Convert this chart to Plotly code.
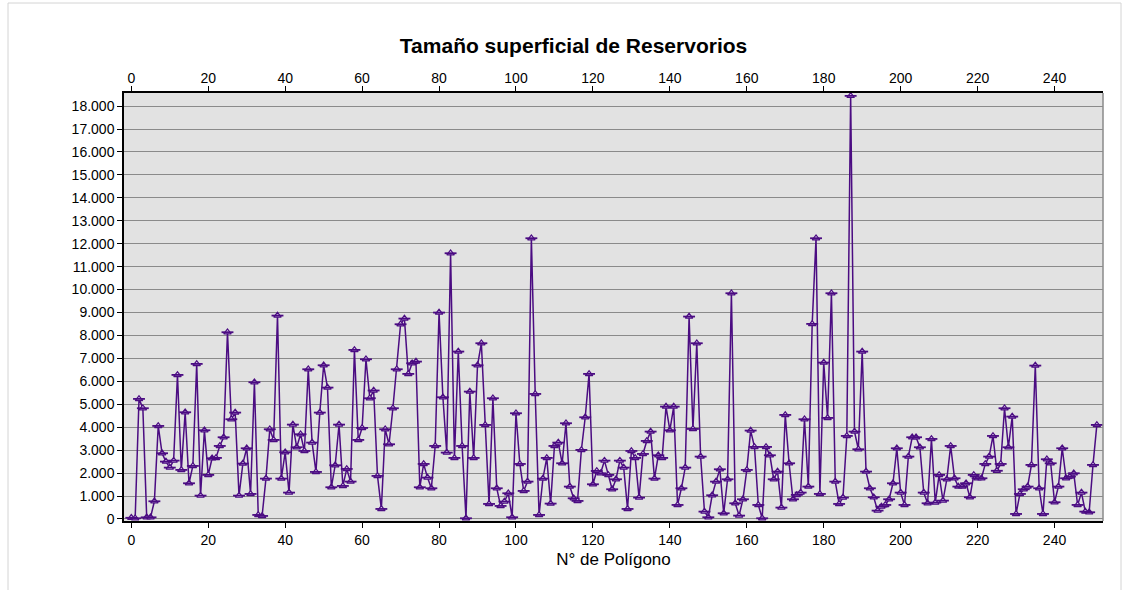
import plotly.graph_objects as go

# Surface area per polygon (m²)
poligono = list(range(252))
superficie = [
    50, 30, 5233, 4826, 70, 70, 770, 4055, 2863, 2500,
    2238, 2543, 6279, 2137, 4651, 1555, 2311, 6759, 1017, 3866,
    1919, 2645, 2660, 3183, 3561, 8140, 4346, 4637, 1017, 2413,
    3081, 1090, 5959, 174, 130, 1759, 3910, 3445, 8866, 1759,
    2907, 1148, 4113, 3125, 3692, 2965, 6526, 3328, 2049, 4637,
    6700, 5727, 1381, 2340, 4113, 1439, 2180, 1628, 7369, 3445,
    3968, 6962, 5262, 5600, 1875, 436, 3910, 3256, 4826, 6526,
    8488, 8735, 6323, 6788, 6860, 1381, 2398, 1802, 1337, 3183,
    8997, 5305, 2892, 11584, 2660, 7297, 3183, 29, 5552, 2660,
    6700, 7660, 4099, 654, 5262, 1337, 567, 756, 1119, 73,
    4608, 2398, 1221, 1628, 12238, 5450, 174, 1759, 2660, 669,
    3183, 3328, 2427, 4172, 1410, 901, 785, 3009, 4433, 6323,
    1512, 2093, 1991, 2543, 1919, 1294, 1730, 2543, 2238, 436,
    2965, 2660, 930, 2834, 3401, 3808, 1759, 2776, 2660, 4898,
    3866, 4898, 610, 1337, 2238, 8823, 3924, 7660, 2718, 320,
    73, 1032, 1628, 2166, 247, 1730, 9840, 683, 145, 858,
    2137, 3852, 3140, 610, 29, 3140, 2776, 1730, 2064, 494,
    4535, 2427, 858, 1047, 1148, 4346, 1410, 8503, 12238, 1090,
    6817, 4404, 9840, 1628, 654, 930, 3619, 18445, 3808, 3038,
    7297, 2064, 1337, 945, 363, 538, 610, 858, 1555, 3081,
    1148, 610, 2718, 3561, 3561, 3125, 1148, 683, 3488, 712,
    1919, 799, 1730, 3183, 1773, 1410, 1410, 1555, 945, 1919,
    1773, 1773, 2398, 2718, 3619, 2100, 2398, 4826, 3125, 4462,
    218, 1090, 1294, 1410, 2355, 6686, 1337, 218, 2602, 2427,
    727, 1410, 3081, 1773, 1846, 1991, 610, 1148, 320, 291,
    2355, 4099,
]

x_ticks = list(range(0, 241, 20))
y_ticks = list(range(0, 18001, 1000))

PURPLE = "#4b0c82"
FONT = "Liberation Sans, Arial, sans-serif"
X_RANGE = [-1.9, 252.6]

fig = go.Figure()

# series line with small dome markers
fig.add_trace(go.Scatter(
    x=poligono, y=superficie, mode="lines+markers",
    line=dict(color=PURPLE, width=1.5),
    marker=dict(symbol="triangle-up", size=6.5, color="#d8c8ec",
                line=dict(color=PURPLE, width=1.2)),
    showlegend=False, hoverinfo="x+y",
))
# flat base of each marker
fig.add_trace(go.Scatter(
    x=poligono, y=superficie, mode="markers",
    marker=dict(symbol="line-ew", size=8.5,
                line=dict(color=PURPLE, width=1.8)),
    showlegend=False, hoverinfo="skip",
))
# invisible trace to carry the top axis
fig.add_trace(go.Scatter(
    x=poligono, y=superficie, xaxis="x2", mode="lines",
    opacity=0, showlegend=False, hoverinfo="skip",
))

axis_font = dict(family=FONT, size=14, color="#000000")

fig.update_layout(
    width=1129, height=590,
    margin=dict(l=124, r=26, t=93, b=69),
    paper_bgcolor="white",
    plot_bgcolor="#e2e2e2",
    separators=",.",
    font=dict(family=FONT, color="#000000"),
    title=dict(text="<b>Tamaño superficial de Reservorios</b>",
               x=0.508, xref="container", xanchor="center",
               y=1 - 46 / 590, yref="container", yanchor="middle",
               font=dict(family=FONT, size=21, color="#000000")),
    xaxis=dict(
        range=X_RANGE, tickvals=x_ticks, showgrid=False, zeroline=False,
        ticks="outside", ticklen=5, tickcolor="#000000",
        showline=True, linecolor="#000000", linewidth=1.5,
        tickfont=axis_font,
        title=dict(text="N° de Polígono", standoff=7,
                   font=dict(family=FONT, size=17, color="#000000")),
    ),
    xaxis2=dict(
        range=X_RANGE, tickvals=x_ticks, overlaying="x", side="top",
        showgrid=False, zeroline=False,
        ticks="outside", ticklen=5, tickcolor="#000000",
        showline=True, linecolor="#000000", linewidth=1.5,
        tickfont=axis_font, ticklabelstandoff=-2,
    ),
    yaxis=dict(
        range=[-90, 18570], tickvals=y_ticks, tickformat=",d",
        showgrid=True, gridcolor="#8a8a8a", gridwidth=1, zeroline=False,
        ticks="outside", ticklen=5, tickcolor="#000000",
        showline=True, linecolor="#000000", linewidth=1.5,
        tickfont=axis_font,
    ),
    shapes=[
        # right edge of plot frame
        dict(type="line", xref="paper", yref="paper", x0=1, x1=1, y0=0, y1=1,
             line=dict(color="#8a8a8a", width=1.5)),
        # light outer frame
        dict(type="rect", xref="paper", yref="paper",
             x0=(8 - 124) / 979, x1=(1121 - 124) / 979,
             y0=(521 - 600) / 428, y1=(521 - 3) / 428,
             line=dict(color="#d4d4d4", width=1), layer="below"),
    ],
)

fig.write_html("out.html")
